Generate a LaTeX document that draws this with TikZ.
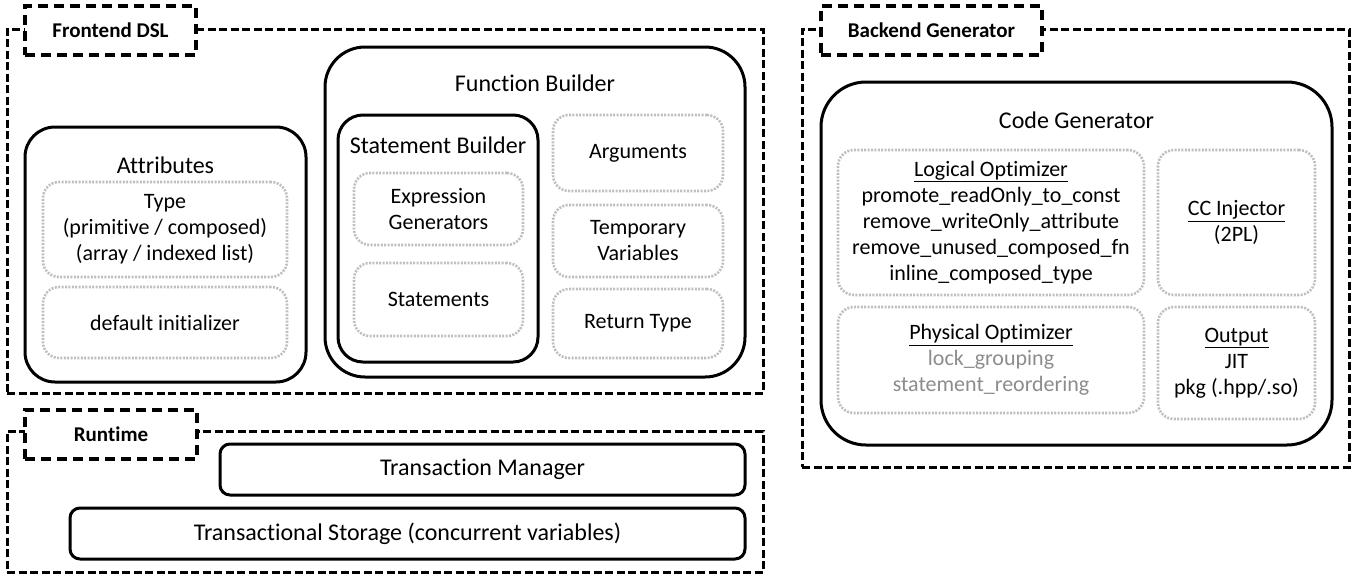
\documentclass[tikz,border=0pt]{standalone}
\usepackage{fontspec}
\setmainfont{Carlito}[Ligatures=NoCommon]
\usetikzlibrary{positioning}
\definecolor{dotgray}{HTML}{BFBFBF}
\definecolor{softtext}{HTML}{8C8C8C}

\begin{document}
\begin{tikzpicture}[x=1pt,y=-1pt,
    every node/.style={inner sep=0pt,outer sep=0pt,align=center,font=\fontsize{22}{26}\selectfont},
    title/.style={font=\fontsize{24}{28}\selectfont},
    group/.style={draw,line width=3pt,dash pattern=on 8pt off 3.5pt},
    tabbox/.style={draw,fill=white,line width=3.2pt,dash pattern=on 10pt off 6pt,font=\fontsize{21}{25}\selectfont\bfseries},
    module/.style={draw,line width=3pt,rounded corners=#1},
    module/.default=30pt,
    part/.style={draw=dotgray,line width=2.6pt,dash pattern=on 2pt off 1.4pt,rounded corners=16pt}]
    \useasboundingbox (0,0) rectangle (1367,579);
    % Frontend DSL
    \node[group,minimum width=756pt,minimum height=364pt] (fe) at (385,211) {};
    \node[tabbox,minimum width=171pt,minimum height=49pt] (fetab) at (110.5,30.5) {Frontend DSL};
    \node[module=30pt,minimum width=281pt,minimum height=255pt] (attr) at (165.5,254.5) {};
    \node[title] (attrtitle) at (165.5,165) {Attributes};
    \node[part,minimum width=244pt,minimum height=95pt] (type) at (165,229.5) {Type\\(primitive / composed)\\(array / indexed list)};
    \node[part,minimum width=244pt,minimum height=71pt] (init) at (165,322.5) {default initializer};
    \node[module=40pt,minimum width=420pt,minimum height=330pt] (fb) at (535,212) {};
    \node[title] (fbtitle) at (535,83) {Function Builder};
    \node[module=25pt,minimum width=200pt,minimum height=247pt] (sb) at (438,238.5) {};
    \node[title] (sbtitle) at (438,145) {Statement Builder};
    \node[part,minimum width=169pt,minimum height=72pt] (expr) at (438.5,209) {Expression\\Generators};
    \node[part,minimum width=169pt,minimum height=73pt] (stmts) at (438.5,299.5) {Statements};
    \node[part,minimum width=170pt,minimum height=76pt] (args) at (638,153) {Arguments};
    \node[part,minimum width=170pt,minimum height=72pt] (temps) at (638,241) {Temporary\\Variables};
    \node[part,minimum width=170pt,minimum height=69pt] (ret) at (638,323.5) {Return Type};
    % Backend Generator
    \node[group,minimum width=547pt,minimum height=438pt] (be) at (1075.5,248) {};
    \node[tabbox,minimum width=221pt,minimum height=49pt] (betab) at (931.5,30.5) {Backend Generator};
    \node[module=45pt,minimum width=511pt,minimum height=363pt] (cg) at (1076.5,263.5) {};
    \node[title] (cgtitle) at (1076.5,120) {Code Generator};
    \node[part,minimum width=306pt,minimum height=145pt] (logopt) at (991,222.5)
      {\underline{Logical Optimizer}\\promote\_readOnly\_to\_const\\remove\_writeOnly\_attribute\\remove\_unused\_composed\_fn\\inline\_composed\_type};
    \node[part,minimum width=157pt,minimum height=145pt] (cc) at (1236.5,222.5) {\underline{CC Injector}\\(2PL)};
    \node[part,minimum width=306pt,minimum height=106pt] (physopt) at (991,360)
      {\underline{Physical Optimizer}\\\textcolor{softtext}{lock\_grouping}\\\textcolor{softtext}{statement\_reordering}};
    \node[part,minimum width=157pt,minimum height=112pt] (out) at (1236.5,363) {\underline{Output}\\JIT\\pkg (.hpp/.so)};
    % Runtime
    \node[group,minimum width=756pt,minimum height=141pt] (rt) at (385,501.5) {};
    \node[tabbox,minimum width=172pt,minimum height=49pt] (rttab) at (111,434.5) {Runtime};
    \node[module=10pt,title,minimum width=525pt,minimum height=51pt] (tm) at (482.5,469.5) {Transaction Manager};
    \node[module=10pt,title,minimum width=675pt,minimum height=51pt] (ts) at (407.5,533.5) {Transactional Storage (concurrent variables)};
\end{tikzpicture}
\end{document}
